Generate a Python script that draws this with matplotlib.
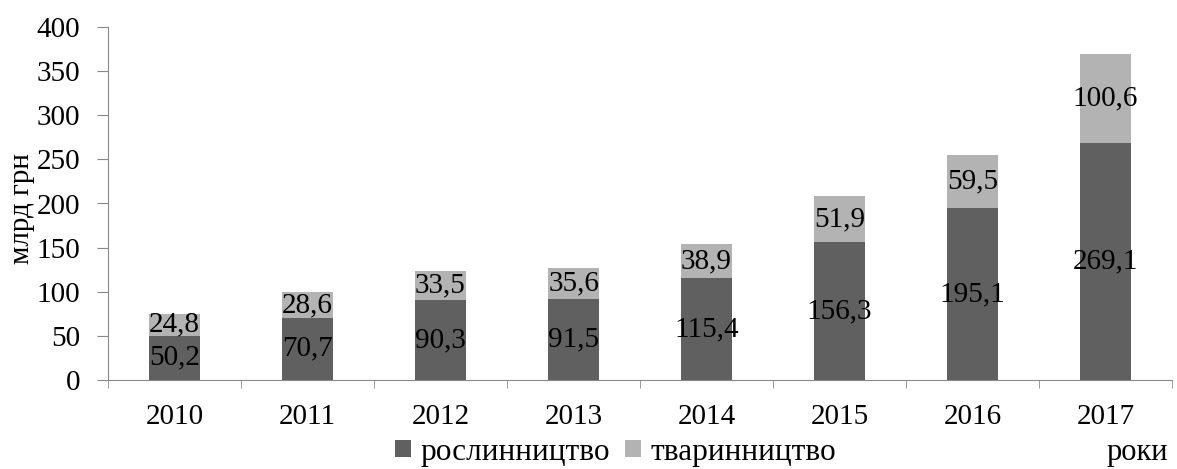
import matplotlib
matplotlib.use('Agg')
import matplotlib.pyplot as plt
import numpy as np

plt.rcParams.update({'font.family': 'Liberation Serif', 'font.size': 21})

years = ['2010', '2011', '2012', '2013', '2014', '2015', '2016', '2017']
crops = [50.2, 70.7, 90.3, 91.5, 115.4, 156.3, 195.1, 269.1]
livestock = [24.8, 28.6, 33.5, 35.6, 38.9, 51.9, 59.5, 100.6]

COLOR_CROPS = '#606060'
COLOR_LIVE = '#b3b3b3'
AXIS_GRAY = '#898989'

W, H = 1177, 469
fig = plt.figure(figsize=(W / 100, H / 100), dpi=100)
ax = fig.add_axes([108 / W, 1 - 380 / H, 1064 / W, 353 / H])

x = np.arange(len(years))
width = 0.39
b1 = ax.bar(x, crops, width, color=COLOR_CROPS, label='рослинництво', zorder=3)
b2 = ax.bar(x, livestock, width, bottom=crops, color=COLOR_LIVE, label='тваринництво', zorder=3)

fmt = lambda v: f'{v:.1f}'.replace('.', ',')
for xi, c, l in zip(x, crops, livestock):
    ax.text(xi, c / 2, fmt(c), ha='center', va='center', zorder=4)
    ax.text(xi, c + l / 2, fmt(l), ha='center', va='center', zorder=4)

ax.set_xlim(-0.5, len(years) - 0.5)
ax.set_ylim(0, 400)
ax.set_yticks(np.arange(0, 401, 50))

# category labels in the middle, tick marks on category boundaries
ax.set_xticks(x)
ax.set_xticklabels(years)
ax.tick_params(axis='x', which='major', length=0, pad=17)
ax.set_xticks(np.arange(-0.5, len(years)), minor=True)
ax.tick_params(axis='x', which='minor', length=6, color=AXIS_GRAY, direction='out')
ax.tick_params(axis='y', length=8, color=AXIS_GRAY, direction='out', pad=12)

for side in ('top', 'right'):
    ax.spines[side].set_visible(False)
for side in ('left', 'bottom'):
    ax.spines[side].set_color(AXIS_GRAY)

fig.text(22 / W, 1 - 209 / H, 'млрд грн', rotation=90, ha='center', va='center')

fig.legend(handles=[b1, b2], loc='center left', bbox_to_anchor=(395 / W, 1 - 452 / H),
           ncol=2, frameon=False, borderpad=0, borderaxespad=0, fontsize=22.5,
           handlelength=0.5, handleheight=0.48, handletextpad=0.3,
           columnspacing=0.5)
fig.text(1168 / W, 1 - 452 / H, 'роки', ha='right', va='center', fontsize=22)

fig.savefig('out.png', dpi=100)
